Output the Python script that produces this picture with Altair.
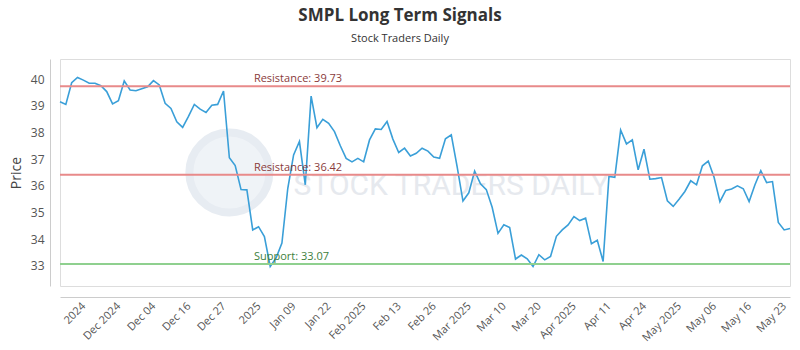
import altair as alt
import pandas as pd

# ---- data ----
prices = [39.15, 39.05, 39.86, 40.06, 39.96, 39.84, 39.84, 39.75, 39.53, 39.07,
          39.19, 39.93, 39.59, 39.56, 39.64, 39.71, 39.94, 39.78, 39.09, 38.90,
          38.40, 38.19, 38.60, 39.05, 38.87, 38.75, 39.02, 39.05, 39.55, 37.05,
          36.76, 35.86, 35.85, 34.35, 34.47, 34.10, 32.98, 33.30, 33.86, 35.90,
          37.16, 37.66, 36.04, 39.36, 38.18, 38.49, 38.34, 38.03, 37.50, 37.03,
          36.90, 37.03, 36.90, 37.72, 38.13, 38.11, 38.41, 37.75, 37.25, 37.41,
          37.12, 37.22, 37.41, 37.30, 37.08, 37.03, 37.76, 37.91, 36.72, 35.43,
          35.74, 36.55, 36.08, 35.86, 35.20, 34.22, 34.54, 34.44, 33.26, 33.41,
          33.27, 32.98, 33.42, 33.23, 33.36, 34.11, 34.35, 34.54, 34.85, 34.70,
          34.79, 33.83, 33.96, 33.17, 36.35, 36.32, 38.09, 37.57, 37.72, 36.60,
          37.37, 36.25, 36.27, 36.31, 35.44, 35.23, 35.50, 35.79, 36.19, 36.04,
          36.75, 36.93, 36.32, 35.41, 35.83, 35.88, 36.00, 35.89, 35.41, 36.04,
          36.57, 36.12, 36.16, 34.63, 34.35, 34.40]

tick_labels = ["2024", "Dec 2024", "Dec 04", "Dec 16", "Dec 27", "2025", "Jan 09",
               "Jan 22", "Feb 2025", "Feb 13", "Feb 26", "Mar 2025", "Mar 10",
               "Mar 20", "Apr 2025", "Apr 11", "Apr 24", "May 2025", "May 06",
               "May 16", "May 23"]
tick_positions = [4 + 6 * k for k in range(len(tick_labels))]

level_values = [39.73, 36.42, 33.07]
level_names = ["Resistance", "Resistance", "Support"]
level_kind = ["res", "res", "sup"]

y_ticks = [33, 34, 35, 36, 37, 38, 39, 40]

# ---- tables ----
df = pd.DataFrame({"idx": list(range(len(prices))), "price": prices})
levels = pd.DataFrame({
    "level": level_values,
    "kind": level_kind,
    "label": [f"{n}: {v:.2f}" for n, v in zip(level_names, level_values)],
})

FONT = "Open Sans"
label_js = "[" + ",".join(f"'{t}'" for t in tick_labels) + "]"

xscale = alt.Scale(domain=[0, len(prices) - 1], nice=False, zero=False)
yscale = alt.Scale(domain=[32.25, 40.75], nice=False, zero=False)

x_axis = alt.Axis(values=tick_positions, labelExpr=f"{label_js}[(datum.value-4)/6]",
                  labelAngle=-45, labelAlign="right", labelBaseline="top",
                  ticks=False, grid=False, offset=11, labelPadding=3, labelOffset=-4,
                  labelFontSize=11, labelColor="#555555", labelFont=FONT,
                  domainColor="#cccccc", labelOverlap=False, labelSeparation=0)
y_axis = alt.Axis(values=y_ticks, ticks=False, offset=10, labelPadding=6,
                  labelFontSize=12, labelColor="#555555", labelFont=FONT,
                  domainColor="#cccccc", gridColor="#ececec", labelOverlap=False,
                  labelSeparation=0,
                  titleFont=FONT, titleFontSize=14, titleFontWeight="normal",
                  titleColor="#444444", titlePadding=7)


def X(field=None, datum=None):
    if datum is not None:
        return alt.XDatum(datum, type="quantitative", scale=xscale, axis=x_axis, title=None)
    return alt.X(field, type="quantitative", scale=xscale, axis=x_axis, title=None)


def Y(field=None, datum=None):
    if datum is not None:
        return alt.YDatum(datum, type="quantitative", scale=yscale, axis=y_axis, title="Price")
    return alt.Y(field, type="quantitative", scale=yscale, axis=y_axis, title="Price")


# watermark
wm_circle = alt.Chart(pd.DataFrame({"a": [0]})).mark_point(
    shape="circle", size=6400, filled=True, color="#e6ecf3", opacity=0.6,
    stroke="#d8e0ea", strokeWidth=8,
).encode(x=X(datum=29), y=Y(datum=36.5))
wm_text = alt.Chart(pd.DataFrame({"t": ["STOCK TRADERS DAILY"]})).mark_text(
    fontSize=30, font="Roboto", fontWeight="normal", color="#e6e9ee",
    align="left", baseline="middle",
).encode(x=X(datum=40), y=Y(datum=36.0), text="t:N")

line = alt.Chart(df).mark_line(color="#3a9fd8", strokeWidth=1.6).encode(
    x=X("idx"), y=Y("price"),
)

color_scale = alt.Scale(domain=["res", "sup"], range=["#e88a8a", "#8fd08f"])
rules = alt.Chart(levels).mark_rule(strokeWidth=2).encode(
    y=Y("level"),
    color=alt.Color("kind:N", scale=color_scale, legend=None),
)
text_scale = alt.Scale(domain=["res", "sup"], range=["#8a3b3b", "#3d7f3d"])
rule_labels = alt.Chart(levels).mark_text(
    align="left", baseline="bottom", dy=-2, fontSize=11, font=FONT,
).encode(
    x=X(datum=33.2),
    y=Y("level"),
    text="label:N",
    color=alt.Color("kind:N", scale=text_scale, legend=None),
)

chart = alt.layer(wm_circle, wm_text, line, rules, rule_labels).resolve_scale(
    color="independent"
).properties(
    width=730, height=227,
    autosize=alt.AutoSizeParams(type="none"),
    padding={"left": 60, "top": 59, "right": 10, "bottom": 64},
    title=alt.TitleParams(
        "SMPL Long Term Signals", subtitle="Stock Traders Daily",
        anchor="middle", dx=-25, offset=14, font=FONT, fontSize=17,
        fontWeight="bold", color="#333333", subtitleFont=FONT,
        subtitleFontSize=11, subtitleColor="#333333", subtitlePadding=8,
    ),
).configure_axis(labelOverlap=False).configure_view(
    stroke="#8c8c8c", strokeWidth=1
).configure(background="white")

chart.save("out.html", embed_options={"renderer": "svg", "actions": False})
